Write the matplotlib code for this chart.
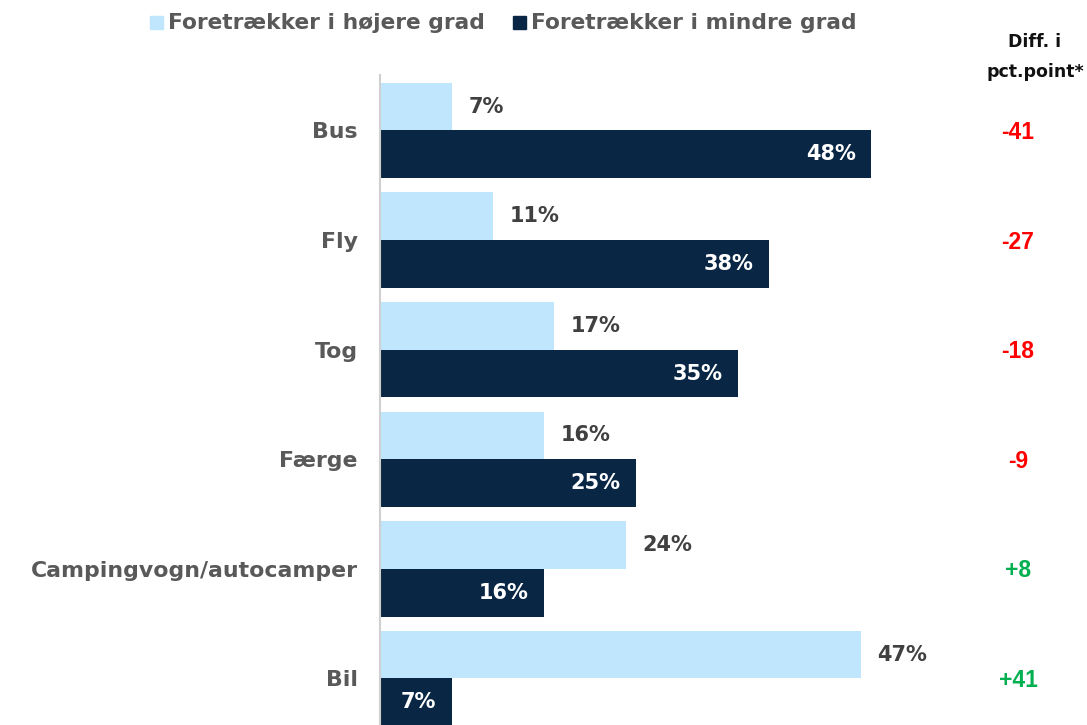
import matplotlib
matplotlib.use("Agg")
import matplotlib.pyplot as plt
import numpy as np

categories = ["Bus", "Fly", "Tog", "Færge", "Campingvogn/autocamper", "Bil"]
higher = [7, 11, 17, 16, 24, 47]
lower = [48, 38, 35, 25, 16, 7]
diffs = ["-41", "-27", "-18", "-9", "+8", "+41"]
legend_labels = ["Foretrækker i højere grad", "Foretrækker i mindre grad"]
diff_header = "Diff. i\npct.point*"

LIGHT = "#bfe6fc"
DARK = "#0a2645"
FONT = ["DejaVu Sans"]

W, H = 1087, 725
fig = plt.figure(figsize=(W / 100, H / 100), dpi=100)

ax_left, ax_right, ax_top, ax_bottom = 380, 960, 75, 725
ax = fig.add_axes([ax_left / W, 1 - ax_bottom / H, (ax_right - ax_left) / W, (ax_bottom - ax_top) / H])

px_per_unit_x = 10.23
ax.set_xlim(0, (ax_right - ax_left) / px_per_unit_x)
unit = 109.6
c0 = 130.5
ax.set_ylim((ax_bottom - c0) / unit, (ax_top - c0) / unit)

y = np.arange(len(categories))
bh = 0.435
ax.barh(y - bh / 2, higher, height=bh, color=LIGHT, edgecolor="none")
ax.barh(y + bh / 2, lower, height=bh, color=DARK, edgecolor="none")

for i, (h, l) in enumerate(zip(higher, lower)):
    ax.annotate(f"{h}%", (h, i - bh / 2), xytext=(12, 0), textcoords="offset points",
                ha="left", va="center", fontsize=15, fontweight="bold", color="#404040", family=FONT)
    ax.annotate(f"{l}%", (l, i + bh / 2), xytext=(-11, 0), textcoords="offset points",
                ha="right", va="center", fontsize=15, fontweight="bold", color="white", family=FONT)

ax.set_yticks(y)
ax.set_yticklabels(categories, fontsize=15.8, fontweight="bold", color="#595959", family=FONT)
ax.tick_params(axis="y", length=0, pad=16)
ax.set_xticks([])
for s in ["top", "right", "bottom"]:
    ax.spines[s].set_visible(False)
ax.spines["left"].set_color("#d0d0d0")
ax.spines["left"].set_linewidth(1.5)

# diff column
for i, d in enumerate(diffs):
    ypx = c0 + i * unit + 2
    col = "#ff0000" if d.startswith("-") else "#00b050"
    fig.text(1018 / W, 1 - ypx / H, d, ha="center", va="center", fontsize=16.5,
             fontweight="bold", color=col, family=["Liberation Sans", "DejaVu Sans"])

fig.text(1035 / W, 1 - 57 / H, diff_header, ha="center", va="center", fontsize=12.5,
         fontweight="bold", color="#111111", family=FONT, linespacing=1.8)

# legend
for xs, lab, col in [(150, legend_labels[0], LIGHT), (513, legend_labels[1], DARK)]:
    fig.patches.append(plt.Rectangle((xs / W, 1 - 29 / H), 13 / W, 13 / H, transform=fig.transFigure,
                                     color=col, figure=fig))
    fig.text((xs + 18) / W, 1 - 23 / H, lab, ha="left", va="center", fontsize=15.7,
             fontweight="bold", color="#595959", family=FONT)

fig.savefig("out.png", dpi=100)
